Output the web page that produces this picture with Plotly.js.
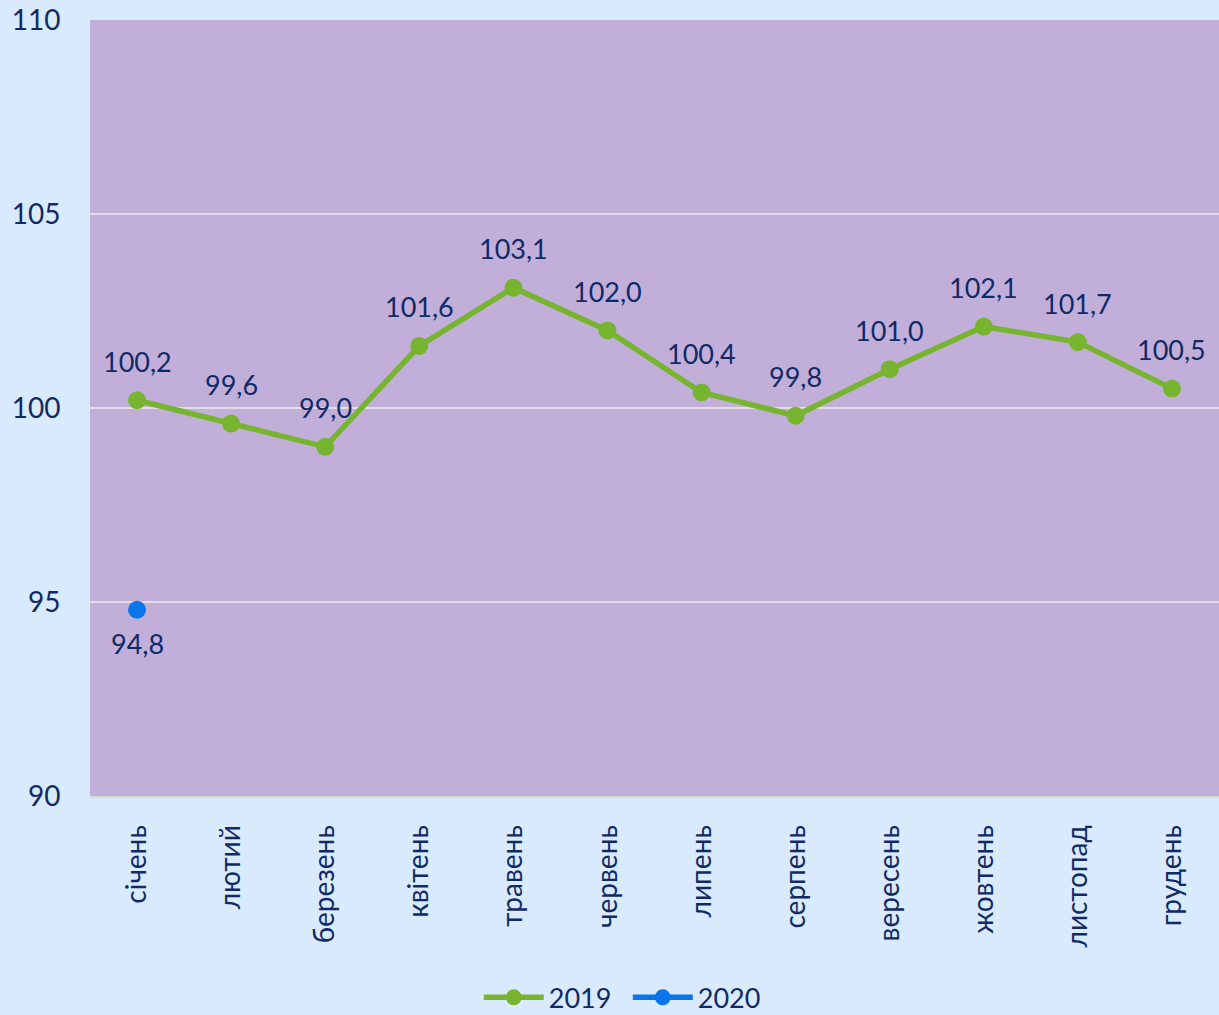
<!DOCTYPE html>
<html>
<head>
<meta charset="utf-8">
<script src="https://cdn.plot.ly/plotly-3.0.1.min.js"></script>
<style>html,body{margin:0;padding:0;background:#d9eafc;}</style>
</head>
<body>
<div id="chart" style="width:1219px;height:1015px;"></div>
<script>
const months = ["січень","лютий","березень","квітень","травень","червень","липень","серпень","вересень","жовтень","листопад","грудень"];
const values2019 = [100.2, 99.6, 99.0, 101.6, 103.1, 102.0, 100.4, 99.8, 101.0, 102.1, 101.7, 100.5];
const values2020 = [94.8];
const months2020 = ["січень"];
const yTicks = [90, 95, 100, 105, 110];

const fmt = v => v.toFixed(1).replace('.', ',');
const navy = '#0f2a66';
const fontFam = 'Lato, "Open Sans", sans-serif';

const traces = [
  {
    x: months, y: values2019, name: '2019', type: 'scatter', mode: 'lines+markers',
    line: {color: '#77b530', width: 5.5},
    marker: {color: '#77b530', size: 18},
    cliponaxis: false
  },
  {
    x: months2020, y: values2020, name: '2020', type: 'scatter', mode: 'lines+markers',
    line: {color: '#0a74ea', width: 5.5},
    marker: {color: '#0a74ea', size: 18},
    cliponaxis: false
  }
];

const annotations = [];
values2019.forEach((v, i) => annotations.push({
  x: months[i], y: v, text: fmt(v), showarrow: false, yshift: 39,
  font: {family: fontFam, size: 27, color: navy}
}));
values2020.forEach((v, i) => annotations.push({
  x: months2020[i], y: v, text: fmt(v), showarrow: false, yshift: -34,
  font: {family: fontFam, size: 27, color: navy}
}));

const layout = {
  width: 1219, height: 1015,
  margin: {l: 90, r: 0, t: 20, b: 219, autoexpand: false},
  paper_bgcolor: '#d9eafc',
  plot_bgcolor: '#c2afd9',
  font: {family: fontFam, size: 25, color: navy},
  showlegend: true,
  annotations: annotations,
  legend: {orientation: 'h', xref: 'container', yref: 'container',
           x: 0.515, xanchor: 'center', y: 0.017, yanchor: 'middle',
           itemwidth: 60, entrywidth: 74, entrywidthmode: 'pixels',
           font: {family: fontFam, size: 27, color: navy}, bgcolor: 'rgba(0,0,0,0)'},
  xaxis: {
    type: 'category', categoryorder: 'array', categoryarray: months,
    range: [-0.5, 11.5], tickangle: -90, showgrid: false,
    showline: true, linecolor: '#d9d9d9', linewidth: 2,
    ticks: 'outside', ticklen: 16, tickcolor: 'rgba(0,0,0,0)',
    tickfont: {family: fontFam, size: 28, color: navy}, fixedrange: true
  },
  yaxis: {
    range: [90, 110], tickvals: yTicks, ticktext: yTicks.map(String),
    showgrid: true, gridcolor: '#e2dde6', gridwidth: 2, zeroline: false,
    showline: false,
    ticks: 'outside', ticklen: 23, tickcolor: 'rgba(0,0,0,0)',
    tickfont: {family: fontFam, size: 28, color: navy}, fixedrange: true
  }
};

Plotly.newPlot('chart', traces, layout, {displayModeBar: false, staticPlot: true});
</script>
</body>
</html>
